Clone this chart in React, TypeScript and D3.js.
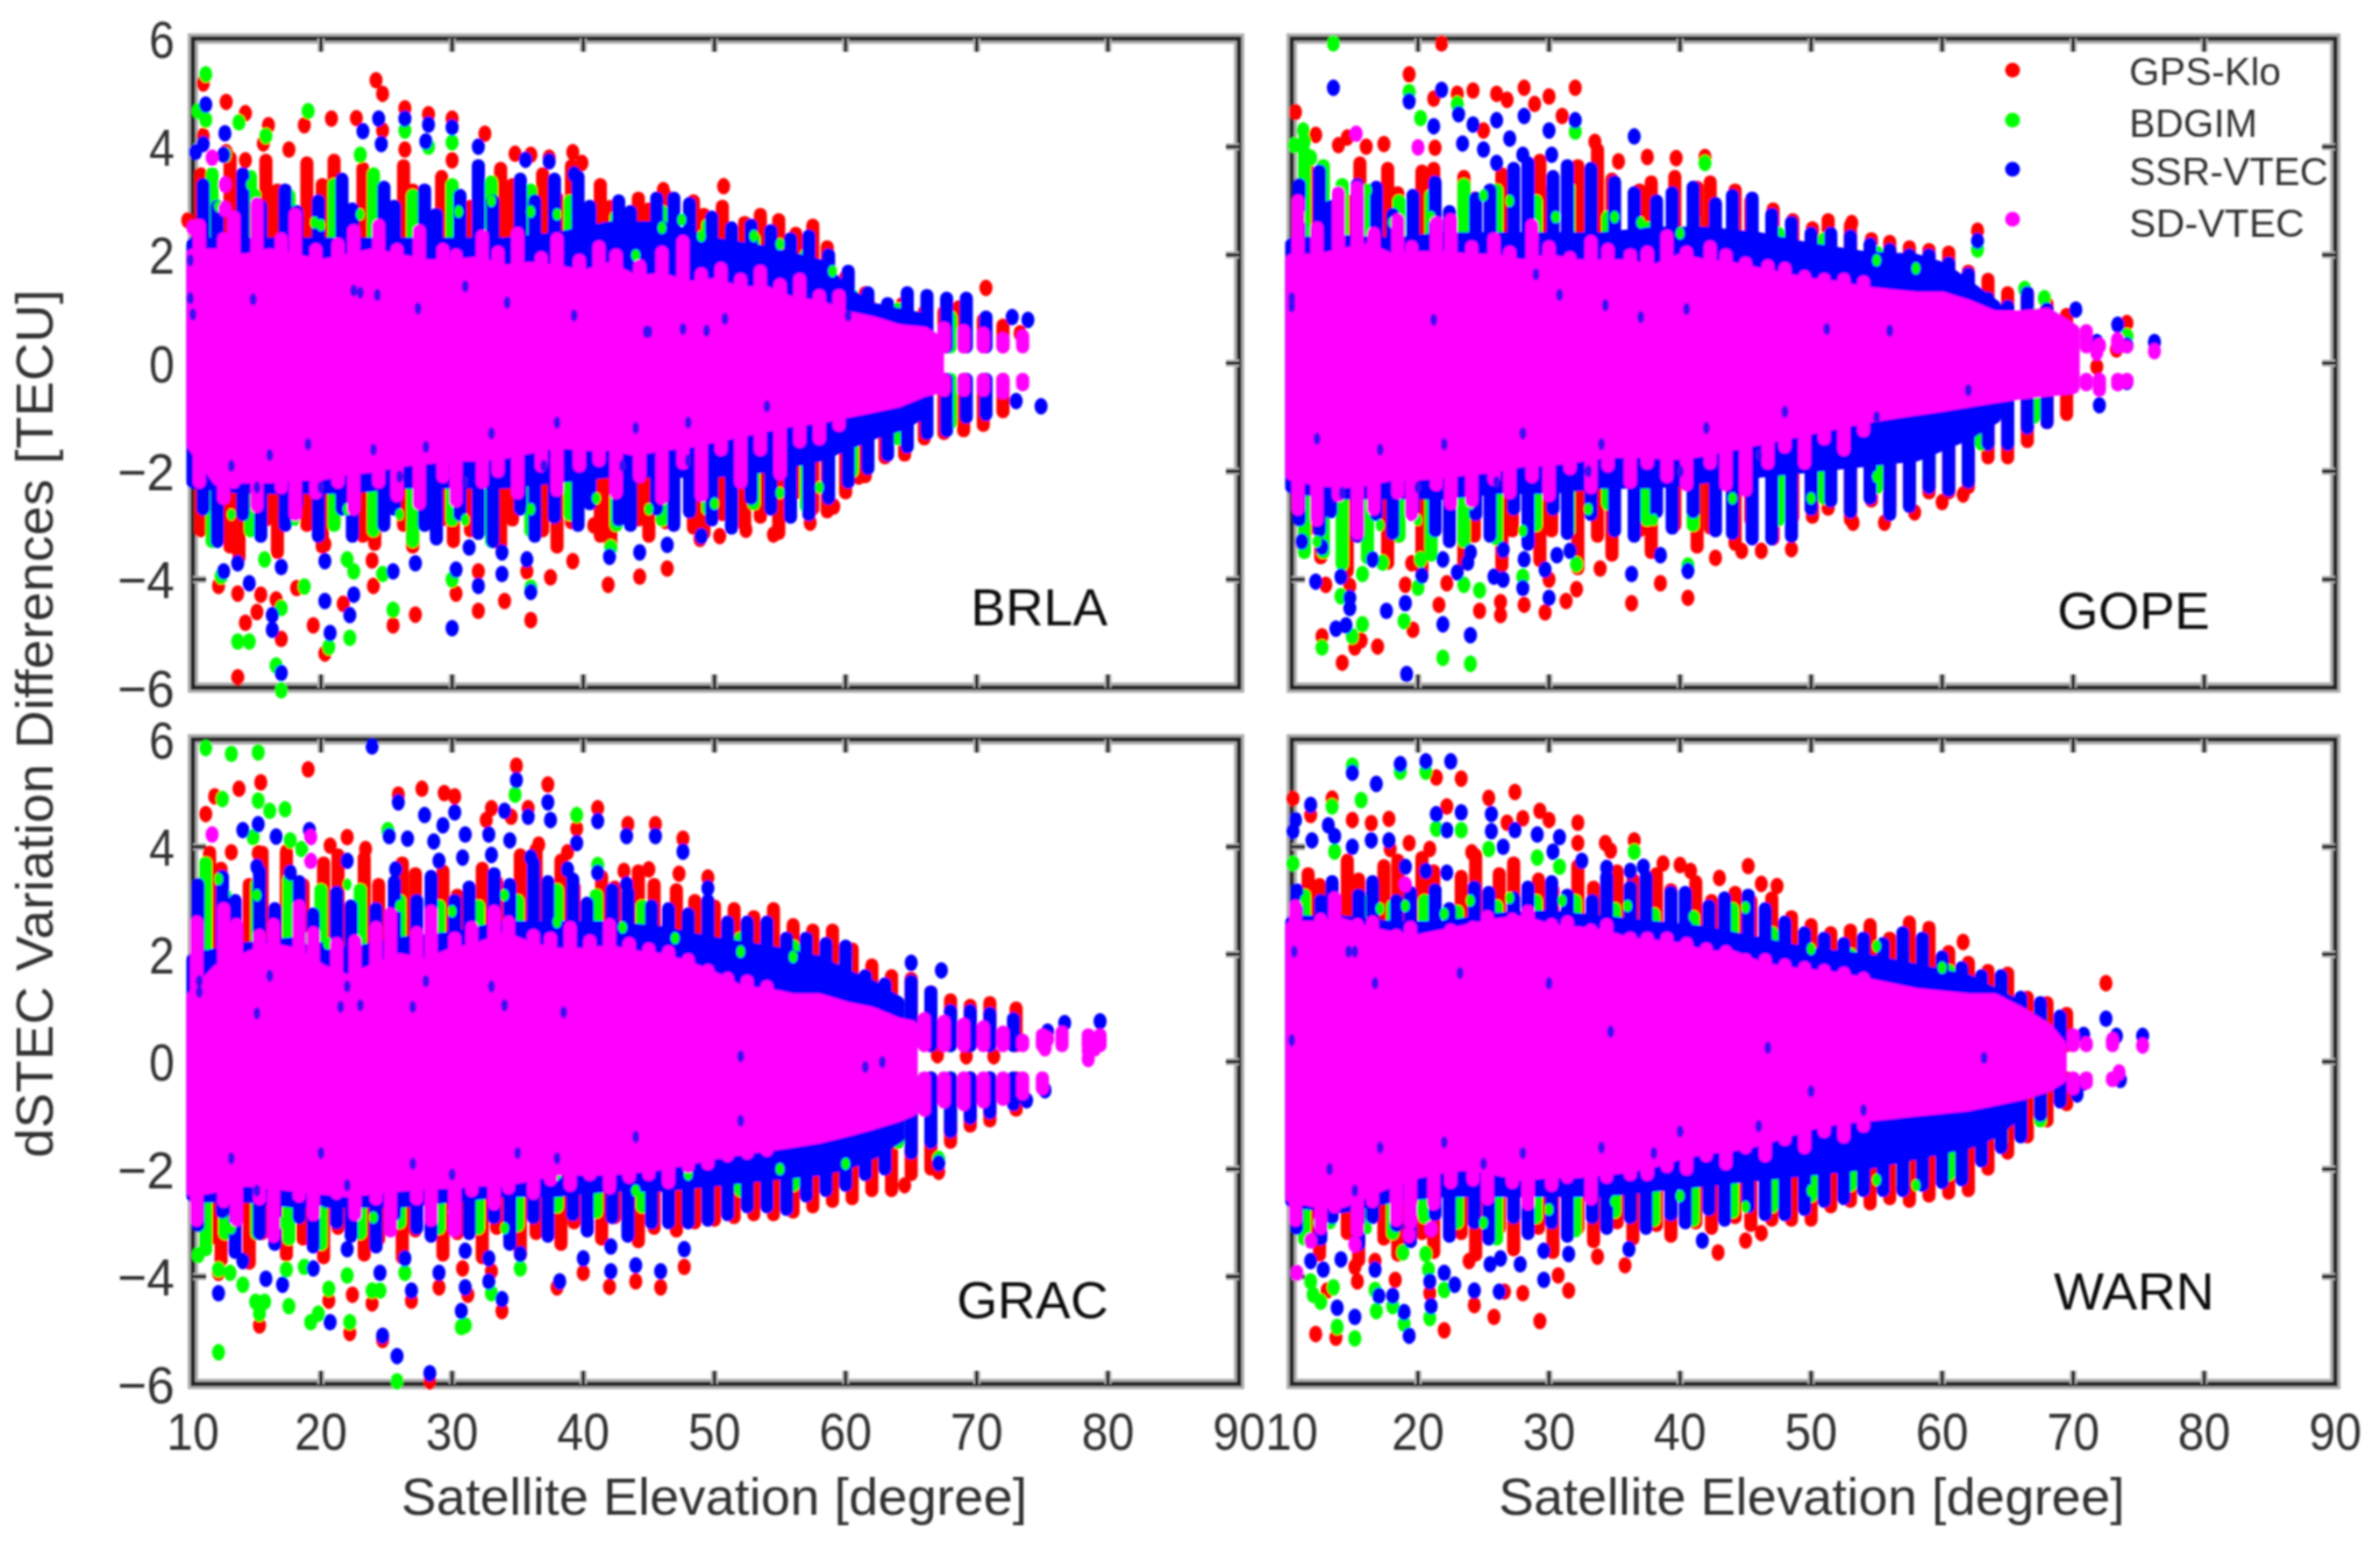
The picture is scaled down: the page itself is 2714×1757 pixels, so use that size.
import { useEffect, useRef } from "react";
import * as d3 from "d3";

type Pt = number[];

const xTicks = [10, 20, 30, 40, 50, 60, 70, 80, 90];
const yTicks = [-6, -4, -2, 0, 2, 4, 6];
const seriesNames = ["GPS-Klo", "BDGIM", "SSR-VTEC", "SD-VTEC"];
const seriesColors = ["#ff0000", "#00ff00", "#0000ff", "#ff00ff"];
const stations = ["BRLA", "GOPE", "GRAC", "WARN"];

// Where the points overplot to solid colour they cannot be told apart,
// so those cores are kept as [elevation, top, bottom].
const brlaMagentaCore = [[10,2,-1.5],[12,2,-2.15],[14,1.9,-2.1],[16,2,-2.1],[18,1.9,-2.05],[20,1.8,-2.05],[22,1.9,-1.95],[24,2,-1.9],[26,1.9,-1.8],[28,1.8,-1.75],[30,1.8,-1.7],[32,1.85,-1.7],[34,1.7,-1.65],[36,1.75,-1.55],[38,1.7,-1.45],[40,1.6,-1.5],[42,1.75,-1.5],[44,1.5,-1.6],[46,1.55,-1.5],[48,1.4,-1.45],[50,1.45,-1.35],[52,1.3,-1.25],[54,1.3,-1.15],[56,1.1,-1.05],[58,1.05,-1],[60,0.85,-0.9],[62,0.75,-0.8],[64,0.6,-0.7],[66,0.55,-0.5],[67,0.4,-0.45]];
const brlaBlueCore = [[10,2.2,-2.2],[14,2.2,-2.3],[18,2.2,-2.3],[22,2.2,-2.3],[26,2.2,-2.2],[30,2.2,-2.2],[34,2.2,-2.2],[38,2.3,-2.1],[42,2.5,-2],[46,2.5,-2],[50,2.2,-2],[54,2.05,-1.9],[58,1.8,-1.7],[60,1.3,-1.5],[62,1,-1.3],[64,0.9,-1.15],[66,0.8,-0.9]];
const gopeMagentaCore = [[10,1.9,-2.05],[12,1.9,-2.15],[14,2,-2.2],[16,2.1,-2.15],[18,1.9,-2.05],[20,1.95,-2.05],[22,1.95,-2],[24,1.9,-1.95],[26,1.9,-1.9],[28,1.8,-1.8],[30,1.9,-1.78],[32,1.8,-1.72],[34,1.8,-1.65],[36,1.8,-1.62],[38,1.7,-1.65],[40,1.9,-1.67],[42,1.8,-1.6],[44,1.75,-1.5],[46,1.65,-1.4],[48,1.55,-1.3],[50,1.45,-1.2],[52,1.4,-1.1],[54,1.3,-1],[56,1.25,-0.92],[58,1.2,-0.85],[60,1.2,-0.78],[62,1.05,-0.7],[64,0.85,-0.62],[66,0.85,-0.55],[68,0.9,-0.5],[70,0.6,-0.45]];
const gopeBlueCore = [[10,2.2,-2.3],[14,2.25,-2.4],[18,2.2,-2.4],[22,2.3,-2.4],[26,2.3,-2.3],[30,2.3,-2.3],[34,2.3,-2.2],[38,2.4,-2.2],[42,2.4,-2.1],[46,2.3,-2],[50,2.1,-1.9],[54,1.95,-1.8],[58,1.9,-1.7],[60,1.75,-1.5],[62,1.4,-1.3],[64,1.05,-1]];
const gracMagentaCore = [[10,1.2,-2.4],[12,1.7,-2.3],[14,1.9,-2.2],[16,2.1,-2.25],[18,2,-2.3],[20,1.7,-2.35],[22,1.5,-2.4],[24,1.7,-2.35],[26,1.9,-2.3],[28,1.8,-2.25],[30,2,-2.25],[32,2.1,-2.2],[34,2.3,-2.2],[36,2.1,-2.1],[38,2,-2],[40,2,-2],[42,2.05,-2],[44,1.95,-1.95],[46,1.9,-1.9],[48,1.75,-1.8],[50,1.55,-1.7],[52,1.3,-1.62],[54,1.25,-1.55],[56,1.15,-1.48],[58,1.15,-1.4],[60,1,-1.28],[62,0.9,-1.15],[64,0.7,-1],[65,0.65,-0.9]];
const gracBlueCore = [[10,1.9,-2.5],[14,2.1,-2.5],[18,2.2,-2.6],[22,2,-2.6],[26,2.2,-2.6],[30,2.3,-2.5],[34,2.5,-2.4],[38,2.5,-2.4],[42,2.5,-2.3],[46,2.4,-2.3],[50,2.2,-2.2],[54,2.05,-2.1],[58,1.85,-2],[60,1.6,-1.9],[62,1.4,-1.7],[64,1.1,-1.4]];
const warnMagentaCore = [[10,2.5,-2.5],[12,2.5,-2.6],[14,2.55,-2.6],[16,2.4,-2.4],[18,2.3,-2.2],[20,2.25,-2.05],[22,2.35,-1.95],[24,2.45,-1.9],[26,2.55,-2],[28,2.6,-2.1],[30,2.45,-2.05],[32,2.4,-2.05],[34,2.35,-2],[36,2.2,-1.95],[38,2.15,-1.85],[40,2.1,-1.7],[42,1.95,-1.6],[44,1.95,-1.55],[46,1.75,-1.45],[48,1.65,-1.3],[50,1.6,-1.15],[52,1.55,-1.05],[54,1.45,-1],[56,1.35,-0.95],[58,1.25,-0.9],[60,1.2,-0.85],[62,1.15,-0.8],[64,1.15,-0.7],[66,0.9,-0.6],[68,0.6,-0.45],[69,0.3,-0.3]];
const warnBlueCore = [[10,2.6,-2.6],[14,2.6,-2.7],[18,2.5,-2.5],[22,2.5,-2.4],[26,2.65,-2.4],[30,2.7,-2.4],[34,2.6,-2.4],[38,2.5,-2.3],[42,2.4,-2.2],[46,2.2,-2.1],[50,2,-2],[54,1.9,-1.9],[58,1.7,-1.7],[60,1.6,-1.6],[62,1.5,-1.5],[64,1.25,-1.3],[66,1,-0.9]];

// Satellite arcs show as vertical streaks: [elevation, top, bottom] of each
// visible column, 0 when a side has none.
const brlaRedCols = [[10.6,3.5,-3.1],[12.9,3.8,-3.4],[13.6,3.3,-3.6],[15.7,3.75,-2.9],[16.6,3.2,-3.5],[18.9,3.7,-3],[20.1,3.3,-3.4],[21,3.75,-2.95],[23.2,3.6,-3.2],[24.1,3,-3.35],[26.3,3.65,-3],[27,3.2,-3.4],[29.2,3.45,-2.9],[30.1,3.1,-3.3],[31.4,2.9,-3.1],[33.7,3.6,-3.35],[34.6,3.3,-2.9],[36.9,3.5,-3.1],[38,3.05,-3.4],[39.1,3.65,-2.95],[41.3,3.3,-3.2],[42.1,2.9,-3.35],[44.2,3.05,-2.9],[45,2.85,-3.2],[46.3,3.1,-2.95],[48.4,3,-3.05],[49.2,2.75,-3.15],[50.6,2.9,-2.8],[52.3,2.6,-3],[53.5,2.75,-2.85],[54.9,2.65,-3.15],[56.2,2.4,-2.4],[57.5,2.55,-2.7],[58.6,2.15,-2.75],[60,1.6,-2.4],[61.5,1.3,-2.1],[63,0.95,-1.75],[64.5,1.05,-1.7],[66,0.95,-1.4],[67.5,0.95,-1.3],[69,0.95,-1.25],[70.5,0.8,-1.15],[72,0.7,-0.9]];
const brlaGreenCols = [[11.5,3.5,-3.3],[14.5,3.45,-3.1],[17.5,3.1,-2.9],[21,3.3,-3],[24,3.5,-3.1],[27,3.1,-3.3],[30,3.3,-2.9],[33,3.35,-3.3],[36,3.2,-3.1],[39,3,-2.8],[42.5,2.7,-3],[46,2.8,-2.9],[49.5,2.55,-2.7],[53,2.3,-2.6],[57,2,-2.65],[60.5,1.25,-2],[64,1,-1.4],[68,0.85,-1.1]];
const brlaBlueCols = [[10.8,3.3,-2.7],[11.9,2.9,-3.3],[13.9,3.5,-2.8],[15.3,2.9,-3.2],[17.2,3.2,-3],[18.1,2.8,-2.6],[19.8,3,-3.2],[21.6,3.4,-2.7],[22.4,2.85,-3.2],[24.8,3.25,-3],[25.6,2.9,-2.7],[27.9,3.2,-3],[28.8,2.75,-3.25],[30.6,3.1,-2.8],[32,3.65,-3.15],[33.1,3,-3.3],[35.2,3.4,-2.7],[36.3,3,-3.2],[37.8,3.4,-2.85],[39.6,3.45,-3],[40.5,2.9,-2.6],[42.7,3,-2.9],[43.6,2.8,-3],[45.6,3.05,-2.7],[46.9,3.05,-3],[48.1,2.95,-2.75],[49.8,2.7,-2.9],[51.3,2.5,-3.05],[52.8,2.55,-2.5],[54.3,2.45,-2.7],[55.8,2.3,-2.85],[57.2,2.35,-2.8],[58.7,2,-2.5],[60.2,1.7,-2.2],[61.7,1.3,-1.95],[63.2,1.1,-1.7],[64.7,1.3,-1.55],[66.2,1.25,-1.3],[67.7,1.2,-1.25],[69.2,1.2,-1],[70.7,0.85,-0.95]];
const brlaMagentaCols = [[10.5,2.55,-2.2],[12.4,2.3,-2.5],[13.2,2.7,-2.2],[15,2.95,-2.65],[16.9,2.3,-2.3],[18,2.75,-2.8],[19.6,2.1,-2.4],[21.3,2.2,-2.2],[22.5,2.45,-2.7],[24.4,2.55,-2.2],[25.8,2.1,-2.45],[27.5,2.45,-2.6],[29.3,2.1,-2.1],[30.3,2,-2.55],[32.3,2.35,-2.2],[33.5,2.05,-2],[35,2.4,-2.4],[36.8,1.95,-1.9],[38,2.3,-2.35],[39.7,1.9,-1.9],[41.2,2.15,-1.8],[42.5,2,-2.4],[44.3,1.8,-2.1],[46,2.05,-2.5],[47.6,2.25,-1.85],[49,1.65,-2.45],[50.5,1.75,-1.6],[52,1.55,-2.2],[53.5,1.7,-1.6],[55,1.45,-2.05],[56.5,1.55,-1.45],[58,1.25,-1.4],[59.5,1.25,-1.15],[67.5,0.65,-0.5],[69,0.6,-0.5],[70.5,0.55,-0.5],[72,0.45,-0.55],[73.5,0.5,-0.4]];

const gopeRedCols = [[11.2,3.7,-3.1],[12.3,3.2,-3.6],[14.4,3,-3.85],[15.4,3.7,-3.2],[17.6,3.6,-3.7],[18.4,3.15,-3.2],[20.3,3.55,-3.85],[21.2,3.6,-3],[23.5,3.45,-3.7],[24.3,3.05,-3.2],[26.4,3.5,-3.75],[27.2,3,-3.1],[29.3,3.75,-3.65],[30.2,3.2,-3.1],[32.2,3.65,-3.8],[33.7,3.95,-3.2],[34.8,3.4,-3.55],[36.9,3.2,-3.1],[37.8,3.35,-3.5],[39.6,3.45,-3],[41.3,3.25,-3.4],[42.3,3.35,-3.05],[44.2,3.2,-3.35],[45.4,3,-2.9],[47.1,2.85,-3.25],[48.6,2.65,-2.85],[50.1,2.5,-2.85],[51.3,2.65,-2.7],[53,2.55,-2.9],[54.6,2.3,-2.55],[56,2.25,-2.65],[57.5,2.15,-2.5],[59,2.1,-2.4],[60.5,2.05,-2.4],[62,1.7,-2.3],[63.5,1.55,-1.75],[65,1.3,-1.75],[66.5,1.3,-1.45],[68,1.1,-1.1],[69.5,0.9,-0.95]];
const gopeGreenCols = [[11,3.9,-3.5],[12.5,3.65,-3.5],[14,3.3,-3.7],[16,3.2,-3.6],[18.5,3,-3.2],[21,3.1,-3.55],[23.5,3.3,-3.3],[26,3.2,-3.25],[29,3,-3],[31.5,3.25,-3.1],[34.5,2.7,-2.6],[37.5,2.5,-2.9],[41,2.7,-3],[44,2.7,-2.8],[47.5,2.4,-2.9],[51,2.3,-2.5],[55,2.05,-2.3],[59,1.7,-2.1],[63,1.1,-1.5],[67,0.9,-1]];
const gopeBlueCols = [[10.6,3.3,-2.9],[12.2,3.55,-3.1],[13.1,2.9,-2.75],[15.2,3.3,-3.2],[16.7,3.25,-2.8],[18,2.75,-3.15],[19.6,3.1,-2.7],[21.3,3.35,-3.1],[22.4,2.8,-3.3],[24.4,3.05,-2.8],[25.5,3.2,-3.2],[27.3,3.6,-2.7],[28.4,3.7,-3.35],[30.3,3.45,-2.7],[31.4,3.65,-3.15],[33.2,3.6,-2.8],[35,3.35,-3.1],[36.5,3.15,-3.2],[38.2,3,-2.75],[39.4,3.15,-3.05],[41,3.25,-2.75],[42.7,2.95,-3.1],[44,3.1,-3.15],[45.5,3.05,-3.25],[47,2.75,-3.25],[48.5,2.6,-3.2],[50,2.4,-2.7],[51.5,2.4,-2.55],[53,2.35,-2.75],[54.5,2.2,-2.5],[56,2.1,-2.8],[57.5,2,-2.65],[59,2,-2.3],[60.5,1.85,-2.35],[62,1.65,-2.2],[63.5,1.2,-1.5],[65,1.05,-1.5],[66.5,1.3,-1.2],[68,1,-1.1]];
const gopeMagentaCols = [[10.5,3,-2.7],[12,2.5,-2.9],[13.7,3.15,-2.45],[15.2,3.25,-3.15],[16.5,2.4,-2.7],[18.4,2.65,-2.4],[19.5,2.15,-2.8],[21.4,2.6,-2.25],[22.5,2.65,-2.6],[24.1,2.15,-2.55],[25.8,2.3,-2.15],[27,2.05,-2.4],[28.7,2.55,-2.1],[30,2.15,-2.45],[31.6,1.95,-1.95],[33.2,2.25,-2.3],[34.5,2.1,-1.9],[36.2,2,-2.2],[37.5,2.05,-1.85],[39,2.35,-2.1],[40.5,2.05,-2.25],[42.3,2.15,-1.85],[43.5,2,-2.25],[45,1.85,-2.35],[46.7,1.8,-1.85],[48,1.75,-1.55],[49.5,1.6,-1.85],[51,1.55,-1.4],[52.5,1.55,-1.6],[54,1.5,-1.25],[71,0.6,-0.4],[72,0.35,-0.5],[73.4,0.45,-0.4],[74.1,0.3,-0.35]];

const gracRedCols = [[11.3,3.9,-3.3],[12.2,3.6,-3.7],[14.4,3.3,-3.75],[15.4,3.9,-3.2],[17.3,3.85,-3.6],[18.6,3.3,-3.3],[20.2,3.7,-3.65],[21.3,3.85,-3.1],[23.3,3.8,-3.6],[24.4,3.3,-3.3],[26.2,3.7,-3.65],[27.2,3.5,-3.15],[29.3,3.55,-3.6],[30.4,3.1,-3.2],[32.3,3.6,-3.65],[33.4,3.35,-3.1],[35.2,3.85,-3.6],[36.4,3.95,-3.2],[38.3,3.75,-3.4],[39.3,3.25,-3],[41.4,3.45,-3.3],[42.4,3.25,-2.9],[44.2,3.55,-3.35],[45.4,3.3,-3.1],[47.1,3.2,-3.15],[48.5,3,-3],[50,2.9,-2.95],[51.5,2.85,-2.9],[53,2.7,-2.85],[54.5,2.85,-2.85],[56,2.55,-2.8],[57.5,2.45,-2.7],[59,2.45,-2.6],[60.5,2.1,-2.55],[62,1.8,-2.4],[63.5,1.6,-2.4],[65,1.55,-2.1],[66.5,1.3,-2],[68,1.15,-1.5],[69.5,1.05,-1.2],[71,1.1,-1.1],[73,1,-0.9]];
const gracGreenCols = [[11,3.7,-3.5],[12.5,3.1,-3.2],[15,3.3,-3.2],[17.5,3.4,-3.3],[20,3.2,-3.4],[23,3.2,-3.2],[26,3,-3],[29,2.9,-3.1],[32,2.9,-3.1],[35,3,-3.05],[38,3.2,-2.7],[41,3.1,-2.8],[44.5,2.9,-2.7],[48,2.4,-2.4],[52,2.3,-2.4],[56,2.15,-2.3],[60,1.9,-2],[64,1.1,-1.5],[68,0.9,-1.1]];
const gracBlueCols = [[10.4,3.3,-3.05],[12.3,3.45,-2.8],[13.3,3,-3.55],[15.2,3.55,-3.2],[16.4,2.85,-3.4],[18.3,3.35,-2.9],[19.4,2.75,-3.45],[21.2,3.15,-3],[22.3,2.9,-3.25],[24.2,2.85,-3.45],[25.6,3.35,-2.85],[27.3,3,-3.1],[28.4,3.45,-3.25],[30.2,3,-2.75],[31.3,3.25,-3.2],[33.2,3.5,-2.9],[34.4,3.3,-3.4],[36.2,3.7,-2.9],[37.3,3.35,-3.25],[39.2,3.4,-2.85],[40.3,2.95,-3.15],[42.2,3.2,-2.9],[43.4,3.15,-3.25],[45.2,2.9,-3],[46.5,2.85,-3],[48,2.75,-3],[49.5,3,-2.95],[51,2.6,-2.85],[52.5,2.6,-2.7],[54,2.6,-2.7],[55.5,2.3,-2.75],[57,2.3,-2.5],[58.5,2.2,-2.4],[60,2.15,-2.3],[61.5,1.6,-2.1],[63,1.45,-2],[65,1.5,-1.7],[66.5,1.3,-1.5],[68,0.95,-1.3],[69.5,0.95,-1.05],[71,0.9,-0.95],[72.8,0.8,-0.8]];
const gracMagentaCols = [[10.3,2.6,-2.95],[12.4,2.85,-2.6],[13.4,2.55,-2.95],[15.2,2.35,-2.55],[16.3,2.55,-3.25],[18.3,2.9,-2.5],[19.4,2.4,-2.85],[21.2,2.2,-2.45],[22.6,2.25,-2.85],[24.2,2.5,-2.55],[25.3,2.75,-3.15],[27.3,2.4,-2.55],[28.4,2.8,-2.95],[30.2,2.3,-3.15],[31.5,2.5,-2.4],[33.2,2.8,-2.65],[34.3,2.6,-2.35],[36.2,2.35,-2.45],[37.5,2.3,-2.2],[39,2.5,-2.3],[40.5,2.25,-2.1],[42,2.55,-2.35],[43.5,2.2,-2.15],[45,2.1,-2.1],[46.5,2.05,-2.25],[48,1.9,-1.95],[49.5,1.7,-1.9],[51,1.55,-1.75],[52.5,1.5,-1.7],[54,1.4,-1.65],[66,0.8,-0.9],[67.5,0.75,-0.75],[69,0.7,-0.8],[70.5,0.65,-0.75],[72,0.55,-0.7],[73.5,0.4,-0.6],[75,0.5,-0.5],[76.5,0.55,0],[78.5,0.5,0],[79.4,0.5,0]];

const warnRedCols = [[11.3,3.5,-3.3],[12.2,3.3,-3.6],[14.4,3.75,-3.2],[15.3,3.4,-3.7],[17.3,3.65,-3.3],[18.4,3.75,-3.6],[20.3,3.8,-3.2],[21.2,3.55,-3.55],[23.3,3.45,-3.2],[24.4,3.85,-3.6],[26.2,3.5,-3.1],[27.3,3.7,-3.5],[29.2,3.4,-3.1],[30.3,3.2,-3.55],[32.2,3.65,-3.1],[33.4,3.25,-3.35],[35.2,3.55,-3],[36.4,3.4,-3.3],[38.2,3.5,-3.05],[39.3,3.2,-3.25],[41.2,3.35,-3],[42.4,3,-3.1],[44.2,3.15,-2.9],[45.4,3,-3.05],[47,3.05,-2.95],[48.5,2.7,-2.95],[50,2.55,-2.95],[51.5,2.4,-2.7],[53,2.45,-2.6],[54.5,2.55,-2.65],[56,2.3,-2.55],[57.5,2.6,-2.6],[59,2.5,-2.5],[60.5,2.05,-2.45],[62,1.85,-2.4],[63.5,1.7,-2],[65,1.65,-1.7],[66.5,1.2,-1.4],[68,1.1,-1.1],[69.5,0.9,-0.8]];
const warnGreenCols = [[11,3.1,-3.3],[13,2.9,-3],[15.5,3,-3.1],[18,2.9,-3.2],[20.5,3,-2.9],[23,2.8,-3],[26,2.9,-3.3],[29,3,-2.9],[32,3,-3.15],[35,2.85,-2.8],[38,2.75,-2.95],[41,2.7,-2.95],[44,2.85,-2.8],[47,2.4,-2.7],[50,2,-2.5],[53,2,-2.3],[57,1.9,-2.3],[60.5,1.7,-2.1],[64.5,1.3,-1.5],[67.5,1,-1.1]];
const warnBlueCols = [[10.4,3.2,-3.1],[12.3,3,-3.3],[13.2,3.35,-2.9],[15.3,3.1,-3.4],[16.4,3.35,-2.9],[18.3,3,-3.05],[19.4,3.15,-3.35],[21.3,3.2,-2.85],[22.4,2.85,-3.25],[24.3,3.25,-3],[25.4,3.15,-3.3],[27.3,3.05,-2.9],[28.4,3.25,-3.2],[30.2,3.35,-3],[31.4,3.1,-3.25],[33.3,3,-2.9],[34.4,3.45,-3.1],[36.2,3.25,-2.9],[37.4,3.45,-3.1],[39.3,3.15,-2.85],[40.4,3.15,-3],[42.2,2.9,-2.75],[43.4,3.05,-2.95],[45.2,3.1,-2.7],[46.5,2.85,-2.85],[48,2.6,-2.85],[49.5,2.4,-2.75],[51,2.3,-2.6],[52.5,2.2,-2.55],[54,2.3,-2.4],[55.5,2.2,-2.4],[57,2.4,-2.4],[58.5,2.3,-2.3],[60,1.95,-2.25],[61.5,1.75,-2.2],[63,1.6,-1.85],[64.5,1.6,-1.6],[66,1.2,-1.4],[67.5,1.1,-1],[69,0.85,-0.75]];
const warnMagentaCols = [[10.3,2.9,-2.95],[12.3,2.65,-3.1],[13.4,3.05,-2.7],[15.2,2.55,-3.15],[16.4,2.6,-2.6],[18.3,2.35,-2.95],[19.4,2.5,-3],[21.2,2.3,-2.65],[22.5,2.45,-2.25],[24.2,2.5,-2.2],[25.3,2.7,-2.55],[27.2,2.65,-2.25],[28.4,2.8,-2.65],[30.2,2.55,-2.3],[31.4,2.6,-2.15],[33.2,2.45,-2.55],[34.4,2.55,-2.15],[36.2,2.3,-2.1],[37.5,2.3,-2.1],[39,2.3,-1.95],[40.5,2.2,-2],[42,2.1,-1.75],[43.5,2.05,-1.9],[45,1.9,-1.6],[46.5,1.9,-1.75],[48,1.8,-1.45],[49.5,1.75,-1.6],[51,1.7,-1.3],[52.5,1.65,-1.4],[54,1.55,-1.2],[70,0.5,-0.5],[71,0.35,-0.4],[73,0.4,-0.35]];

// Single points that stand clear of the rest: [elevation, dSTEC difference]
const brlaRed = [[9.6,2.64],[10.8,5.17],[10.8,4.2],[12.6,4.83],[12.6,3.9],[14.1,4.62],[14.1,3.75],[15.9,4.4],[15.5,4.06],[17.5,3.95],[18.7,4.4],[20.8,4.52],[22.7,4.53],[24.2,5.23],[24.7,4.98],[24.7,4.3],[26.4,4.71],[26.4,3.95],[28.2,4.6],[30,4.52],[30,3.75],[32.5,4.24],[34.8,3.87],[36,3.85],[37.4,3.8],[39.2,3.9],[39.9,3.7],[46.1,3.2],[50.7,3.27],[61.8,1.06],[64.3,1.07],[68.6,1.01],[70.7,1.39],[73.3,0.55],[13.5,-5.81],[14.1,-4.8],[15,-4.6],[16.9,-5.1],[16.5,-4.37],[19.4,-4.85],[21.7,-4.45],[25.5,-4.85],[27.2,-4.65],[20.3,-5.37],[13.5,-4.26],[15.3,-4.28],[12,-4.12],[18.1,-4.16],[24,-4.12],[30.3,-4.26],[32,-4.58],[34,-4.4],[36,-4.75],[41.9,-4.1],[44.3,-3.95],[46.4,-3.8],[37.5,-3.96],[35.7,-3.85],[32,-3.85],[39.2,-3.66],[54.5,-3.17],[52.4,-3.08],[50.4,-3.2],[48.9,-3.25],[27,-3.35],[23.9,-3.65],[20.3,-3.35],[11.6,-3.2],[40.8,-3],[57.3,-2.95],[59.1,-2.65],[61,-2.1]];
const brlaGreen = [[11,5.34],[10.4,4.66],[11,4.5],[13.6,4.45],[15.7,4.2],[19,4.66],[26.4,4.3],[30,4.08],[28.2,4],[12.5,3.85],[23,3.85],[16.5,-5.59],[16.9,-6.05],[13.5,-5.15],[14.4,-5.15],[20.6,-5.25],[22.2,-5.08],[16.9,-4.53],[25.5,-4.56],[18.7,-4.13],[12.2,-3.94],[22,-3.63],[22.5,-3.85],[24.7,-3.9],[30,-4],[36,-4.15],[42.1,-3.41],[15.6,-3.63]];
const brlaBlue = [[11,4.78],[12.5,4.25],[10.8,4.05],[10.2,3.9],[12.4,3.85],[24.4,4.52],[23.2,4.29],[24.6,4.05],[26.4,4.52],[28.2,4.41],[28,4.1],[30,4.36],[32,4],[35.6,3.76],[37.4,3.73],[39.3,3.49],[16.9,-5.73],[16.2,-4.66],[16.2,-4.93],[20.7,-4.99],[22.2,-4.66],[20.3,-4.4],[22.5,-4.28],[30,-4.9],[14.4,-4.07],[32,-4.12],[36,-4.23],[33.8,-3.9],[30.3,-3.82],[35.7,-3.63],[25.5,-3.85],[27.2,-3.7],[20.3,-3.66],[16.9,-3.77],[12.4,-3.85],[13.5,-3.7],[31.3,-3.41],[33.8,-3.5],[42,-3.58],[44.3,-3.5],[46.4,-3.36],[49,-3.2],[73.9,0.8],[72.7,0.85],[73,-0.7],[74.9,-0.8]];
const brlaMagenta = [[11.5,3.8],[12.5,3.3],[12.5,2.85],[10,2.5]];
const brlaSpecks = [[22.5,1.34],[23,1.3],[24.3,1.26],[14.7,1.18],[34.2,1.12],[39.3,0.88],[44.8,0.58],[27.4,1.01],[31,1.42],[50.8,0.82],[45,0.58],[47.6,0.63],[49.4,0.6],[60.2,0.88],[9.8,1.9],[9.8,1.2],[10,0.9],[13,-1.9],[16,-1.7],[19,-1.5],[24,-1.6],[28,-1.55],[33,-1.3],[38,-1.1],[44,-1.2],[48,-1.1],[54,-0.8],[15,-2.3],[20,-2.3],[26,-2.1],[31,-2.2],[37,-1.9],[43,-1.9],[48,-1.8]];
const brlaFlecks = [[12,2.9],[14.5,3.3],[15,3.1],[19.5,2.6],[20,2.55],[23,2.75],[27,2.65],[30.5,2.8],[33,3],[36,2.8],[38,2.75],[46,2.5],[47.5,2.65],[49,2.35],[53,2.35],[55,2.2],[59,1.7],[44,1.99],[13,-2.8],[18,-2.9],[22,-2.7],[26,-2.8],[31,-2.9],[36,-2.7],[41,-2.5],[45,-2.7],[50,-2.6],[55,-2.4],[58,-2.3]];

const gopeRed = [[10.3,4.64],[19.3,5.34],[21.8,5.91],[21.2,4.89],[23,4.98],[24.2,5.04],[26,4.98],[26.8,4.87],[28.1,5.09],[28.9,4.79],[30,4.93],[32,5.09],[31,4.57],[25,4.3],[21.3,3.98],[17.3,4.05],[15.9,4],[14.4,4.17],[11.9,4.22],[13.7,4.03],[33.5,4.09],[35.3,3.73],[37.5,3.81],[39.7,3.79],[41.9,3.81],[53.1,2.59],[62.7,2.45],[74.1,0.74],[73.3,0.25],[71.8,-0.07],[14,-5.54],[15,-5.26],[16.8,-5.24],[15.5,-5.13],[12.4,-5.05],[19.6,-4.93],[21.6,-4.47],[24.7,-4.58],[26.3,-4.66],[26.3,-4.42],[28.1,-4.47],[29.7,-4.61],[31.3,-4.4],[32.1,-4.18],[36.3,-4.44],[40.6,-4.34],[38.5,-4.07],[33.9,-3.8],[42.7,-3.6],[44.7,-3.47],[46.2,-3.47],[48.5,-3.44],[53.2,-2.95],[55.6,-2.95],[57.9,-2.76],[60,-2.57],[61.6,-2.43],[30,-4],[22.2,-4.07],[19,-4.1],[12.7,-4.1],[14.6,-4.12],[19.5,-3.7]];
const gopeGreen = [[13.3,5.91],[19.3,5.01],[20.2,4.53],[23,4.79],[32,4.28],[10.9,4.3],[10.2,4.03],[11,4.1],[11.5,3.8],[41.9,3.7],[62.7,2.1],[67.8,1.2],[66.3,1.37],[74.1,0.5],[12.4,-5.26],[14.8,-5.05],[15.6,-4.83],[18.9,-4.77],[21.9,-5.45],[24,-5.56],[13.9,-4.31],[24.7,-4.2],[20,-4.15],[23.5,-4.1],[28,-3.95],[15.6,-3.9],[17.2,-3.69],[14,-3.7],[32.1,-3.72],[20.2,-3.63],[40.6,-3.74]];
const gopeBlue = [[13.3,5.09],[19.3,4.84],[21.2,4.38],[21.8,5.05],[23.1,4.6],[24.2,4.41],[28.1,4.57],[32,4.49],[26,4.49],[23.4,4.06],[36.5,4.19],[27,4.15],[28,3.85],[30,4.3],[30.2,3.85],[26,3.7],[25,3.95],[62.7,2.26],[70.2,0.99],[73.4,0.71],[71.8,0.39],[74.1,0.33],[76.2,0.39],[74.1,-0.35],[19.1,-5.75],[14.6,-4.34],[14.6,-4.53],[13.5,-4.91],[14.3,-4.85],[19,-4.44],[17.5,-4.58],[21.9,-4.83],[24,-5.03],[30,-4.34],[28,-4.16],[26.5,-4],[25.8,-3.95],[20.3,-3.93],[23,-3.87],[29.7,-3.82],[36.3,-3.9],[40.6,-3.84],[38.5,-3.55],[11.9,-4.04],[13.9,-3.95],[21.9,-3.63],[23.8,-3.69],[28.1,-3.63],[16.4,-3.63],[72,-0.78],[26.5,-3.45],[31.6,-3.47],[30.6,-3.55],[24,-3.5],[12.4,-3.4],[10.8,-3.3]];
const gopeMagenta = [[15.1,4.24],[20,3.99],[76.2,0.22],[73.4,0.42],[71.8,0.2]];
const gopeSpecks = [[51.2,0.63],[56,0.6],[29,1.64],[10,1.2],[10,1.05],[37,0.85],[40.5,1],[34.3,1.07],[30.8,1.26],[21.2,0.8],[12,-1.4],[17,-1.6],[22,-1.5],[28,-1.3],[34,-1.5],[42,-1.2],[48,-0.9],[55,-1],[62,-0.5],[14,-2.4],[20,-2.3],[26,-2.2],[33,-2],[40,-2],[46,-1.7]];
const gopeFlecks = [[11,2.7],[14,2.75],[16,3.2],[18,2.6],[21,2.7],[25,3.1],[27,3],[30.5,2.7],[35,2.7],[37,2.6],[40,2.4],[55,1.9],[58,1.75],[12,-3.3],[17,-3],[20,-2.9],[24,-2.6],[28,-3.1],[33,-2.7],[38,-2.9],[44,-2.5],[50,-2.5],[55,-2.1]];

const gracRed = [[19,5.44],[15.3,5.2],[13.6,5.08],[11.7,4.94],[11,4.61],[25.9,4.97],[27.7,5.08],[29.4,5],[30.2,4.94],[34.9,5.51],[37.3,5.16],[33,4.72],[32.6,4.5],[34.5,4.56],[35.8,4.72],[41.1,4.72],[39.5,4.34],[43.4,4.42],[45.5,4.42],[47.6,4.15],[22,4.18],[20.7,4.02],[23.4,3.96],[36.6,4.04],[38.8,3.9],[43.1,3.55],[45,3.58],[47.3,3.5],[49.5,3.43],[13,3.9],[15.1,3.88],[17.3,3.9],[67,0.12],[69.2,0.1],[71.3,0.1],[15.2,-4.91],[22.2,-5.05],[20.6,-4.45],[22.4,-4.34],[23.9,-4.5],[26.9,-4.45],[29,-4.2],[31.2,-4.34],[33.8,-4.64],[30.8,-3.85],[33,-3.9],[38,-4.2],[40,-3.93],[42,-4.19],[44,-4.09],[45.9,-4.2],[47.7,-3.82],[12,-3.93],[24.7,-5.18],[28.3,-5.95],[64.5,-2.3],[67.1,-2.05]];
const gracGreen = [[11,5.84],[13,5.73],[15.1,5.76],[12.3,4.89],[15.1,4.86],[16,4.67],[17.2,4.7],[34.8,4.97],[39.5,4.59],[14.7,4.18],[17.6,4.12],[18.5,3.96],[25.1,4.31],[41.1,3.66],[12,-5.41],[25.8,-5.95],[31,-4.91],[30.7,-4.94],[22.2,-4.85],[19.2,-4.85],[19.8,-4.69],[15.2,-4.69],[14.9,-4.47],[15.6,-4.47],[17.5,-4.55],[12,-3.87],[12.9,-3.93],[13.9,-4.15],[23.9,-4.26],[24.5,-4.26],[20.6,-4.23],[17.3,-3.87],[10.4,-3.6],[18.7,-3.82],[22,-3.98],[26.4,-3.93],[33,-4.31],[35.2,-3.85],[67.1,-1.81]];
const gracBlue = [[23.9,5.87],[25.9,4.83],[27.9,4.59],[30.2,4.64],[34.9,5.24],[37.3,4.83],[34,4.67],[35.8,4.56],[37.5,4.5],[41.1,4.48],[43.3,4.2],[45.5,4.2],[47.6,3.91],[39.5,4.07],[13.9,4.31],[15.1,4.42],[16.5,4.19],[19.1,4.31],[25.2,4.2],[26.6,4.15],[28.6,4.1],[31,4.23],[32.8,4.23],[34.4,4.12],[29.3,4.4],[29,3.74],[30.8,3.8],[22,3.74],[36,3.8],[33,3.85],[15,3.63],[17.6,3.52],[25.7,3.58],[38.8,3.58],[41.1,3.52],[43.3,3.3],[49.5,3.23],[65,1.84],[67.3,1.7],[76.7,0.72],[79.4,0.75],[75.4,0.56],[12,-4.31],[20.7,-4.85],[24.7,-5.1],[25.8,-5.48],[28.3,-5.8],[30.7,-4.64],[31,-4.2],[32.8,-4.09],[33.8,-4.42],[26.9,-4.26],[24.5,-3.93],[26.4,-3.66],[29,-3.93],[31,-3.52],[32.8,-3.66],[35.2,-3.58],[38.2,-4.09],[40,-3.66],[42.1,-3.9],[42.1,-3.44],[44,-3.79],[45.9,-3.9],[47.7,-3.49],[15.7,-4.04],[17,-4.15],[13.9,-3.71],[19.4,-3.85],[22,-3.49],[67.1,-1.89],[75.2,-0.53],[73.8,-0.72]];
const gracMagenta = [[11.5,4.23],[19.2,4.18],[19.2,3.74],[75.4,0.42],[75.2,0.25],[78.5,0.2],[78.5,0.05],[79,0.25]];
const gracSpecks = [[21.5,1.02],[23,1.05],[27,1.02],[34,1.05],[38.5,0.92],[62.8,-0.01],[52,0.1],[15,0.9],[10.5,1.5],[10.5,1.3],[61.5,-0.1],[16,1.6],[22,1.4],[28,1.5],[33,1.4],[13,-1.8],[20,-1.7],[27,-1.9],[35,-1.7],[44,-1.4],[52,-1.1],[15,-2.4],[22,-2.3],[30,-2.1],[38,-1.8]];
const gracFlecks = [[12,3.4],[15,3.1],[19,2.3],[20.5,2.2],[22,3.3],[26,2.9],[30,2.8],[34,3.1],[38,2.6],[43,2.5],[47,2.3],[52,2.05],[56,1.95],[13,-3.1],[17,-3],[20,-2.8],[24,-2.9],[30,-2.8],[34,-3.1],[38,-2.1],[44,-2.4],[48,-2.1],[55,-2],[60,-1.9]];

const warnRed = [[10.1,4.9],[11.5,4.59],[13.2,4.9],[14.8,4.5],[16.3,4.44],[17.7,4.52],[21.4,5.29],[23.3,5.27],[25.4,4.91],[27.4,5.02],[22.2,4.75],[29.3,4.67],[30,4.5],[26.8,4.45],[28,4.53],[32.2,4.45],[34.3,4.07],[36.5,4.12],[32.2,4.07],[34.7,3.93],[19.3,4.07],[17.8,3.96],[20.9,3.96],[24.1,3.9],[38.7,3.69],[40,3.66],[40.8,3.55],[43,3.42],[45.2,3.64],[46.2,3.31],[47.4,3.27],[61.6,2.23],[72.5,1.46],[11.9,-5.07],[13.5,-5.14],[22,-5],[29.3,-4.83],[25.8,-4.75],[24.3,-4.53],[31.5,-4.26],[28,-4.31],[26.6,-4.28],[30.7,-3.98],[15.2,-4.09],[18.2,-4.06],[12.8,-4.26],[16.6,-3.71],[15,-3.82],[20.9,-4.31],[35.8,-3.79],[33.7,-3.63],[42.9,-3.55],[45,-3.33],[46.2,-3.19],[23.9,-3.71]];
const warnGreen = [[14.8,5.51],[15.5,4.87],[13.2,4.75],[18.6,5.4],[20.6,5.4],[21.4,4.34],[23.3,4.31],[36.5,3.91],[10.1,3.69],[13.4,3.91],[25.4,3.96],[29.1,3.8],[30.8,3.63],[15,-5.15],[13.6,-4.94],[12.3,-4.47],[11.7,-4.34],[13.3,-4.2],[11.5,-4.09],[16.7,-4.64],[20.9,-4.77],[18.9,-4.88],[18,-4.55],[16.6,-4.25],[22,-4.25],[20.8,-3.87],[18.8,-3.55],[20.6,-3.58]];
const warnBlue = [[14.8,5.38],[16.7,5.17],[18.6,5.54],[20.6,5.59],[22.5,5.59],[11.5,4.78],[10.3,4.5],[21.4,4.61],[23.3,4.64],[25.6,4.61],[22.2,4.31],[25.6,4.29],[27.4,4.31],[29.1,4.23],[30.8,4.18],[12.9,4.4],[10.1,4.29],[11.6,4.12],[13.4,4.2],[14.8,4],[16.3,4.12],[17.7,4.12],[26.5,4],[30.3,3.91],[32.5,3.74],[19,3.63],[20.6,3.55],[22.2,3.52],[34.4,3.61],[36.2,3.55],[37.2,3.63],[72.5,0.8],[73.3,0.48],[75.3,0.48],[70.8,0.5],[73.6,-0.34],[70.8,-0.39],[70.3,-0.61],[19.3,-5.1],[15,-4.75],[13.6,-4.58],[18.9,-4.66],[21,-4.55],[16.9,-4.36],[18,-4.36],[24.3,-4.26],[26.2,-4.28],[20.9,-4.09],[22,-3.93],[22.8,-4.15],[29.6,-4.06],[27.8,-3.77],[26.3,-3.66],[25.5,-3.77],[29.6,-3.52],[31.5,-3.58],[36.1,-3.49],[41.7,-3.33],[11.5,-3.71],[12.5,-3.87],[13.9,-3.68],[16.6,-3.87]];
const warnMagenta = [[19,3.3],[73,0.4],[75.3,0.3],[73.5,-0.2],[10.4,-3.93],[11.5,-3.33],[15,-3.4],[19.3,-3.22],[21,-3.11]];
const warnSpecks = [[14.5,2.05],[15,2.05],[16.6,1.46],[10.2,2.05],[34.7,0.56],[30,1.46],[23.2,1.65],[46.7,0.26],[63.2,0.07],[10,0.4],[50,-0.55],[13,-2],[17,-1.6],[22,-1.5],[28,-1.7],[34,-1.6],[40,-1.3],[46,-1.2],[54,-0.9],[15,-2.4],[25,-1.9],[38,-1.7]];
const warnFlecks = [[11,3],[13.5,2.9],[17,2.85],[19,2.9],[22,2.75],[24,3],[27,3.05],[31,3],[36,2.9],[41,2.7],[45,2.87],[50,2.1],[55,2.15],[60,1.75],[12,-3],[16,-3.1],[20,-2.75],[25,-3],[30,-2.75],[35,-2.6],[40,-2.5],[45,-2.7],[50,-2.4],[55,-2.2],[58,-2.3]];

const panelCores = [[brlaMagentaCore, brlaBlueCore], [gopeMagentaCore, gopeBlueCore], [gracMagentaCore, gracBlueCore], [warnMagentaCore, warnBlueCore]];
const panelCols = [[brlaRedCols, brlaGreenCols, brlaBlueCols, brlaMagentaCols], [gopeRedCols, gopeGreenCols, gopeBlueCols, gopeMagentaCols], [gracRedCols, gracGreenCols, gracBlueCols, gracMagentaCols], [warnRedCols, warnGreenCols, warnBlueCols, warnMagentaCols]];
const panelPoints = [[brlaRed, brlaGreen, brlaBlue, brlaMagenta], [gopeRed, gopeGreen, gopeBlue, gopeMagenta], [gracRed, gracGreen, gracBlue, gracMagenta], [warnRed, warnGreen, warnBlue, warnMagenta]];
const panelSpecks = [brlaSpecks, gopeSpecks, gracSpecks, warnSpecks];
const panelFlecks = [brlaFlecks, gopeFlecks, gracFlecks, warnFlecks];

const W = 2714, H = 1757, RX = 7.5, RY = 9.5;
// The figure is squeezed a little between 10 and 20 degrees
const colX = [[220, 366, 1413], [1473, 1617, 2663]];
const rowY = [[784, 44], [1578, 843]];
// label box [left, right, baseline] per panel
const stationBox = [[1107, 1263, 713], [2346, 2520, 717], [1091, 1264, 1503], [2342, 2525, 1493]];
const FONT = '"Liberation Sans", Arial, sans-serif';
const INNER = 0.3; // columns stop here, the white slit at 0 shows past the core

export default function App() {
  const ref = useRef<SVGSVGElement>(null);

  useEffect(() => {
    if (!ref.current) return;
    const svg = d3.select(ref.current);
    svg.selectAll("*").remove();
    const defs = svg.append("defs");
    defs.append("filter").attr("id", "soft").attr("x", "-2%").attr("y", "-2%").attr("width", "104%").attr("height", "104%")
      .append("feGaussianBlur").attr("stdDeviation", 0.9);
    const root = svg.append("g").attr("filter", "url(#soft)").attr("font-family", FONT);

    stations.forEach((name, p) => {
      const col = p % 2, row = p < 2 ? 0 : 1;
      const x = d3.scaleLinear().domain([10, 20, 90]).range(colX[col]);
      const y = d3.scaleLinear().domain([-6, 6]).range(rowY[row]);
      const [x0, x1] = [x(10), x(90)];
      const [yb, yt] = [y(-6), y(6)];
      const g = root.append("g");

      // frame, soft grey halo under the dark line
      const frame = (stroke: string, w: number) =>
        g.append("rect").attr("x", x0).attr("y", yt).attr("width", x1 - x0).attr("height", yb - yt)
          .attr("fill", "none").attr("stroke", stroke).attr("stroke-width", w);
      frame("#b2b2b2", 12);
      frame("#222", 5);

      const tick = (a: number, b: number, c: number, d: number) => {
        g.append("line").attr("x1", a).attr("y1", b).attr("x2", c).attr("y2", d).attr("stroke", "#bbb").attr("stroke-width", 8);
        g.append("line").attr("x1", a).attr("y1", b).attr("x2", c).attr("y2", d).attr("stroke", "#222").attr("stroke-width", 4);
      };
      xTicks.slice(1, -1).forEach(t => { tick(x(t), yt, x(t), yt + 15); tick(x(t), yb, x(t), yb - 15); });
      yTicks.slice(1, -1).forEach(t => { tick(x0, y(t), x0 + 15, y(t)); tick(x1, y(t), x1 - 15, y(t)); });

      const dots = (pts: Pt[], fill: string, rx = RX, ry = RY) =>
        g.append("g").attr("fill", fill).selectAll("ellipse").data(pts).join("ellipse")
          .attr("cx", d => x(d[0])).attr("cy", d => y(d[1])).attr("rx", rx).attr("ry", ry);
      const columns = (rows: Pt[], stroke: string) => {
        const ends = rows.flatMap(d => [
          ...(d[1] ? [{ e: d[0], v: d[1], inner: INNER }] : []),
          ...(d[2] ? [{ e: d[0], v: d[2], inner: -INNER }] : []),
        ]);
        g.append("g").attr("stroke", stroke).attr("stroke-width", RX * 2).attr("stroke-linecap", "round")
          .selectAll("line").data(ends).join("line")
          .attr("x1", d => x(d.e)).attr("x2", d => x(d.e))
          .attr("y1", d => y(d.v)).attr("y2", d => y(d.inner));
      };
      const core = (rows: Pt[], fill: string) => {
        const area = d3.area<Pt>().x(d => x(d[0])).y0(d => y(d[2])).y1(d => y(d[1]));
        g.append("path").attr("d", area(rows)).attr("fill", fill).attr("stroke", fill)
          .attr("stroke-width", RX * 2).attr("stroke-linejoin", "round");
      };

      const [magentaCore, blueCore] = panelCores[p];
      const [redCols, greenCols, blueCols, magentaCols] = panelCols[p];
      const [red, green, blue, magenta] = panelPoints[p];
      columns(redCols, seriesColors[0]);
      dots(red, seriesColors[0]);
      columns(greenCols, seriesColors[1]);
      dots(green, seriesColors[1]);
      core(blueCore, seriesColors[2]);
      columns(blueCols, seriesColors[2]);
      dots(blue, seriesColors[2]);
      dots(panelFlecks[p], seriesColors[1], 5, 7);
      core(magentaCore, seriesColors[3]);
      columns(magentaCols, seriesColors[3]);
      dots(magenta, seriesColors[3]);
      dots(panelSpecks[p], "#3a08f2", 4, 7);

      // tick labels
      const lab = g.append("g").attr("fill", "#333").attr("font-size", 60);
      if (row === 1) {
        xTicks.forEach(t => {
          lab.append("text").attr("x", x(t)).attr("y", 1653).attr("text-anchor", "middle")
            .attr("textLength", 60).attr("lengthAdjust", "spacingAndGlyphs").text(String(t));
        });
        lab.append("text").attr("x", (x0 + x1) / 2 - 2).attr("y", 1727).attr("text-anchor", "middle")
          .attr("textLength", 714).attr("lengthAdjust", "spacingAndGlyphs").text("Satellite Elevation [degree]");
      }
      if (col === 0) {
        yTicks.forEach(t => {
          lab.append("text").attr("x", 199).attr("y", y(t) + 21.5).attr("text-anchor", "end")
            .attr("textLength", t < 0 ? 65 : 29).attr("lengthAdjust", "spacingAndGlyphs")
            .text(t < 0 ? `\u2212${-t}` : String(t));
        });
      }

      const [bl, br, bb] = stationBox[p];
      g.append("text").attr("x", bl).attr("y", bb).attr("font-size", 60).attr("fill", "#111")
        .attr("textLength", br - bl).attr("lengthAdjust", "spacingAndGlyphs").text(name);
    });

    root.append("text").attr("transform", "translate(60,825)rotate(-90)").attr("text-anchor", "middle")
      .attr("font-size", 60).attr("fill", "#333").attr("textLength", 990).attr("lengthAdjust", "spacing")
      .text("dSTEC Variation Differences [TECU]");

    // legend in the GOPE panel
    const legendY = [80, 137, 193, 250];
    const legendBase = [97, 156, 211, 270];
    const legendWidth = [173, 146, 227, 200];
    seriesNames.forEach((s, i) => {
      root.append("circle").attr("cx", 2295).attr("cy", legendY[i]).attr("r", 8.5).attr("fill", seriesColors[i]);
      root.append("text").attr("x", 2428).attr("y", legendBase[i]).attr("font-size", 45).attr("fill", "#333")
        .attr("textLength", legendWidth[i]).attr("lengthAdjust", "spacingAndGlyphs").text(s);
    });
  }, []);

  return <svg ref={ref} width={W} height={H} style={{ position: "absolute", left: 0, top: 0, background: "#fff" }} />;
}
